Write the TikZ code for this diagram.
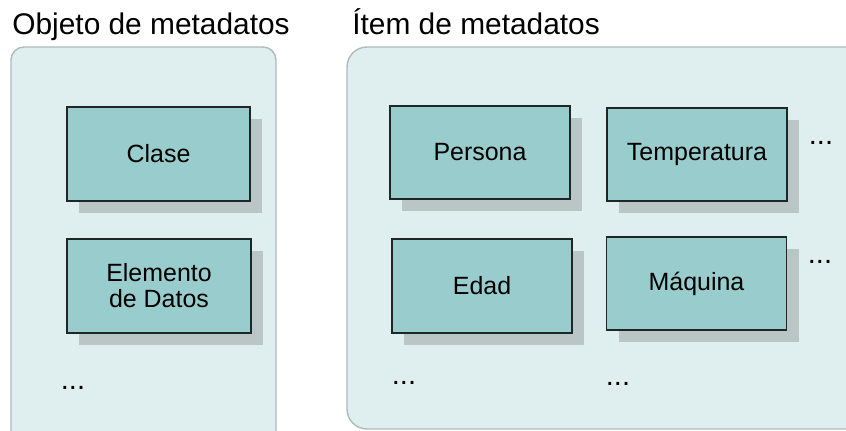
\documentclass[tikz,border=0pt]{standalone}
\usepackage{fontspec}
\setmainfont{Liberation Sans}
\usetikzlibrary{shadows}

\definecolor{panelfill}{RGB}{223,239,239}
\definecolor{paneldraw}{RGB}{176,186,186}
\definecolor{boxfill}{RGB}{153,204,204}
\definecolor{boxshadow}{RGB}{186,198,198}
\definecolor{boxdraw}{RGB}{30,38,38}

\tikzset{
    panel/.style={fill=panelfill, draw=paneldraw, line width=0.8pt},
    databox/.style={rectangle, fill=boxfill, draw=boxdraw, line width=0.9pt,
        minimum width=3.6cm, minimum height=1.87cm, inner sep=0pt, align=center,
        font=\fontsize{14.2}{14.8}\selectfont,
        drop shadow={shadow xshift=0.24cm, shadow yshift=-0.24cm, fill=boxshadow, opacity=1}},
    paneltitle/.style={anchor=base west, inner sep=0pt, font=\fontsize{17}{20}\selectfont},
    moredots/.style={inner sep=0pt, font=\fontsize{16.5}{18}\selectfont}
}

\begin{document}
\begin{tikzpicture}

            \useasboundingbox (0, 0) rectangle (16.92, 8.6);
            \clip (0, 0) rectangle (16.92, 8.6);

            %%panels
            \draw[panel, rounded corners=0.26cm](0.22, -0.5) rectangle (5.52, 7.66);
            \draw[panel, rounded corners=0.4cm](6.94, 0.02) rectangle (17.6, 7.66);
            \node[paneltitle] (objtitle) at(0.24, 7.9){Objeto de metadatos};
            \node[paneltitle] (itemtitle) at(7.04, 7.9){Ítem de metadatos};

            %%left boxes
            \node[databox, minimum width=3.66cm] (clase) at(3.17, 5.52){Clase};
            \node[databox, minimum width=3.68cm] (elemento) at(3.18, 2.88){Elemento\\de Datos};
            \node[moredots] (leftdots) at(1.46, 0.84){...};

            %%right boxes
            \node[databox] (persona) at(9.6, 5.55){Persona};
            \node[databox] (temperatura) at(13.94, 5.51){Temperatura};
            \node[databox] (edad) at(9.64, 2.88){Edad};
            \node[databox] (maquina) at(13.93, 2.93){Máquina};
            \node[moredots] (dotsone) at(16.42, 5.74){...};
            \node[moredots] (dotstwo) at(16.4, 3.36){...};
            \node[moredots] (dotsedad) at(8.08, 0.94){...};
            \node[moredots] (dotsmaquina) at(12.36, 0.92){...};
        \end{tikzpicture}
\end{document}
